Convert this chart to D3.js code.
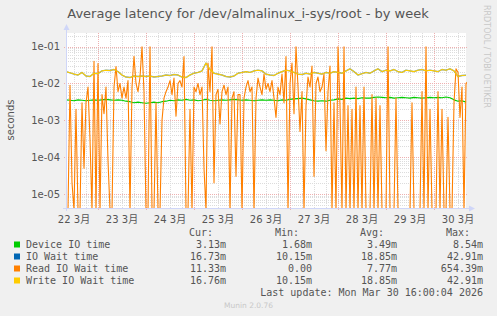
<!DOCTYPE html>
<html>
<head>
<meta charset="utf-8">
<script src="https://cdn.jsdelivr.net/npm/d3@7"></script>
<style>
  body { margin: 0; background: #f0f0f0; }
  svg { display: block; }
</style>
</head>
<body>
<svg id="chart" width="497" height="316"></svg>
<script>
// ---------------------------------------------------------------------------
// DATA (milliseconds)
// ---------------------------------------------------------------------------
const startTime = Date.UTC(2026, 2, 22, 8, 0);   // left edge of the graph
const endTime   = Date.UTC(2026, 2, 30, 16, 0);  // last update

// 2 hour steps
const deviceIoMs = [
  3.6, 3.5, 3.4, 3.6, 3.5, 3.4, 3.5, 3.6, 3.5, 3.6,
  3.7, 3.6, 3.5, 3.6, 3.5, 3.3, 3.2, 3.0, 3.1, 3.0,
  2.9, 3.0, 3.1, 3.0, 3.2, 3.3, 3.5, 3.4, 3.6, 3.5,
  3.7, 3.5, 3.6, 3.4, 3.5, 3.7, 3.5, 3.4, 3.5, 3.6,
  3.5, 3.6, 3.7, 3.6, 3.5, 3.6, 3.5, 3.4, 3.5, 3.6,
  3.5, 3.6, 3.5, 3.4, 3.6, 3.5, 3.7, 3.8, 3.9, 4.0,
  3.8, 3.6, 3.4, 3.3, 3.4, 3.3, 3.5, 3.6, 3.8, 3.7,
  4.0, 3.9, 4.0, 3.9, 4.1, 4.0, 4.0, 4.2, 4.3, 4.2,
  4.1, 4.2, 4.0, 4.1, 4.2, 4.1, 4.0, 4.2, 4.1, 4.0,
  4.1, 4.2, 4.1, 4.2, 4.1, 4.3, 4.1, 3.6, 3.3, 3.4,
  3.13
];

// 2 hour steps
const writeWaitMs = [
  21, 19.5, 18, 17, 20, 16, 15.5, 19, 18.5, 22,
  23, 22.5, 24, 21, 17, 15, 14.5, 16, 15.5, 16,
  15.5, 16, 15, 15.5, 16, 17, 16.5, 17.5, 17, 15,
  14.5, 17, 19, 20, 22, 36, 24, 19, 18, 17,
  15.5, 15, 16, 19, 20, 21, 20, 22, 23, 22,
  18, 17, 16.5, 19, 21, 23, 22, 20, 18, 17.5,
  19, 18, 20, 19, 18, 20, 19, 21, 20, 19,
  22, 25, 21, 17, 18.5, 20, 19, 22, 25, 21,
  23, 22, 24, 21, 20, 23, 22, 21, 23, 24,
  22, 23, 22, 21, 24, 23, 25, 22, 15.5, 16.5,
  16.76
];

// IO wait has the same min/avg/max as write wait, it sits right under it
const ioWaitMs = writeWaitMs;

// 1 hour steps, 0 = no reads
const readWaitMs = [
  0, 0, 9, 0.02, 0, 2, 0, 0, 3, 0.05,
  3, 8, 0.3, 0, 40, 0, 35, 0, 5, 1.5,
  8, 0.08, 0, 0, 8, 29, 6, 10, 4, 8,
  4, 12, 0, 8, 55, 10, 6, 15, 100, 6,
  0, 0, 100, 0, 0, 3, 0, 0, 1, 4,
  6, 8, 12, 5, 14, 1.3, 10, 12, 8, 54,
  0, 0, 2, 0, 8, 6, 10, 5, 8, 0.05,
  0, 36, 6, 100, 0.02, 5, 7, 0.8, 6, 9,
  5, 8, 0, 4, 6, 0.03, 5, 5, 0, 4,
  8, 12, 6, 8, 0, 4, 14, 8, 5, 18,
  7,
  10, 6, 12, 4, 1.2, 8, 5, 18, 3, 54,
  0, 10, 36, 1.5, 100, 8, 0.5, 6, 0, 2.5,
  15, 8, 30, 0.03, 10, 15, 6, 8, 18, 0.15,
  6, 30, 0, 3, 0, 100, 2.5, 0, 100, 0,
  2.5, 0, 2, 0, 8, 0, 2.5, 0, 8, 0,
  0, 0, 5, 0, 4, 0, 2.5, 0, 0, 0,
  100, 0, 0, 0, 4, 0, 0, 0, 0, 0,
  0, 0, 3, 0, 0, 0, 0, 6, 0, 100,
  0, 2, 0, 0, 0, 6, 0, 2, 0, 0,
  1.2, 0, 0, 3, 25, 20, 1.2, 8, 0, 10,
  11.33
];

const seriesNames  = ["Device IO time", "IO Wait time", "Read IO Wait time", "Write IO Wait time"];
const seriesColors = ["#00cc00", "#0066b3", "#ff8000", "#ffcc00"];
const curVals = ["3.13m", "16.73m", "11.33m", "16.76m"];
const minVals = ["1.68m", "10.15m", "0.00 ", "10.15m"];
const avgVals = ["3.49m", "18.85m", "7.77m", "18.85m"];
const maxVals = ["8.54m", "42.91m", "654.39m", "42.91m"];

// ---------------------------------------------------------------------------
// SVG setup
// ---------------------------------------------------------------------------
const svg = d3.select("#chart");
const plot = { left: 66, right: 466, top: 33, bottom: 208 };
const textCol = "#555555";
const axisCol = "#cfd6f8";

const x = d3.scaleUtc().domain([startTime, endTime]).range([plot.left, plot.right]);
const y = d3.scaleLog().domain([4.14e-6, 0.2355]).range([plot.bottom, plot.top]);

svg.append("rect").attr("width", 497).attr("height", 316).attr("fill", "#f0f0f0");
svg.append("rect")
  .attr("x", plot.left).attr("y", plot.top)
  .attr("width", plot.right - plot.left).attr("height", plot.bottom - plot.top)
  .attr("fill", "#ffffff");

// ---------- grid ----------
const grid = svg.append("g").attr("shape-rendering", "crispEdges");

const minorY = [];
for (let k = -6; k <= -1; k++) {
  for (let m = 2; m <= 9; m++) {
    const v = m * Math.pow(10, k);
    if (v > y.domain()[0] && v < y.domain()[1]) minorY.push(v);
  }
}
const majorY = [1e-1, 1e-2, 1e-3, 1e-4, 1e-5];

grid.selectAll(".hminor").data(minorY).enter().append("line")
  .attr("x1", plot.left).attr("x2", plot.right)
  .attr("y1", d => Math.round(y(d)) + 0.5).attr("y2", d => Math.round(y(d)) + 0.5)
  .attr("stroke", "#dcdcdc").attr("stroke-dasharray", "1,1");

const sixHours = d3.utcHour.every(6).range(new Date(startTime), new Date(endTime));
grid.selectAll(".vminor").data(sixHours).enter().append("line")
  .attr("x1", d => Math.round(x(d)) + 0.5).attr("x2", d => Math.round(x(d)) + 0.5)
  .attr("y1", plot.top).attr("y2", plot.bottom)
  .attr("stroke", "#dcdcdc").attr("stroke-dasharray", "1,1");

grid.selectAll(".hmajor").data(majorY).enter().append("line")
  .attr("x1", plot.left - 2).attr("x2", plot.right + 2)
  .attr("y1", d => Math.round(y(d)) + 0.5).attr("y2", d => Math.round(y(d)) + 0.5)
  .attr("stroke", "#eeb0b0").attr("stroke-dasharray", "1,1");

const days = d3.utcDay.range(new Date(startTime), new Date(endTime));
grid.selectAll(".vmajor").data(days).enter().append("line")
  .attr("x1", d => Math.round(x(d)) + 0.5).attr("x2", d => Math.round(x(d)) + 0.5)
  .attr("y1", plot.top).attr("y2", plot.bottom + 2)
  .attr("stroke", "#eeb0b0").attr("stroke-dasharray", "1,1");

// ---------- series ----------
svg.append("clipPath").attr("id", "clip")
  .append("rect")
  .attr("x", plot.left).attr("y", plot.top)
  .attr("width", plot.right - plot.left + 1).attr("height", plot.bottom - plot.top);

function toPoints(vals, stepHours) {
  return vals.map((v, i) => ({ t: d3.utcHour.offset(new Date(startTime), i * stepHours), v: v }));
}

const line = d3.line()
  .x(d => x(d.t))
  .y(d => d.v > 0 ? y(d.v / 1000) : plot.bottom + 2);

const series = [
  toPoints(deviceIoMs, 2),
  toPoints(ioWaitMs, 2),
  toPoints(readWaitMs, 1),
  toPoints(writeWaitMs, 2)
];

const widths = [1.2, 1.4, 1.1, 1.1];
const lines = svg.append("g").attr("clip-path", "url(#clip)");
series.forEach((pts, i) => {
  lines.append("path")
    .datum(pts)
    .attr("fill", "none")
    .attr("stroke", seriesColors[i])
    .attr("stroke-width", widths[i])
    .attr("stroke-opacity", i === 1 ? 0.6 : 1)
    .attr("stroke-linejoin", "round")
    .attr("d", line);
});

// ---------- axes ----------
const axes = svg.append("g").attr("shape-rendering", "crispEdges");
axes.append("line")
  .attr("x1", plot.left + 0.5).attr("x2", plot.left + 0.5)
  .attr("y1", plot.bottom + 3).attr("y2", plot.top - 3)
  .attr("stroke", axisCol);
axes.append("line")
  .attr("x1", plot.left - 3).attr("x2", plot.right + 4)
  .attr("y1", plot.bottom + 0.5).attr("y2", plot.bottom + 0.5)
  .attr("stroke", axisCol);
svg.append("path")
  .attr("d", `M${plot.left - 2.5},${plot.top - 3} L${plot.left + 0.5},${plot.top - 9} L${plot.left + 3.5},${plot.top - 3} Z`)
  .attr("fill", axisCol);
svg.append("path")
  .attr("d", `M${plot.right + 3},${plot.bottom - 2.5} L${plot.right + 9},${plot.bottom + 0.5} L${plot.right + 3},${plot.bottom + 3.5} Z`)
  .attr("fill", axisCol);

const fontSans = "'DejaVu Sans', 'Noto Sans CJK JP', sans-serif";
const fontMono = "'DejaVu Sans Mono', monospace";

svg.selectAll(".ylab").data(majorY).enter().append("text")
  .attr("x", 60).attr("y", d => y(d)).attr("dy", "0.36em")
  .attr("text-anchor", "end")
  .attr("font-family", fontSans).attr("font-size", 10).attr("fill", textCol)
  .text(d => "1e-" + String(Math.round(-Math.log10(d))).padStart(2, "0"));

const noons = days.map(d => d3.utcHour.offset(d, -12)).concat([d3.utcHour.offset(days[days.length - 1], 12)]);
svg.selectAll(".xlab").data(noons).enter().append("text")
  .attr("x", d => x(d)).attr("y", 223)
  .attr("text-anchor", "middle")
  .attr("font-family", fontSans).attr("font-size", 10).attr("fill", textCol)
  .text(d => `${d.getUTCDate()} ${d.getUTCMonth() + 1}月`);

// ---------- title / side texts ----------
svg.append("text")
  .attr("x", 248).attr("y", 18).attr("text-anchor", "middle")
  .attr("font-family", fontSans).attr("font-size", 13).attr("fill", textCol)
  .text("Average latency for /dev/almalinux_i-sys/root - by week");

svg.append("text")
  .attr("transform", "translate(14,120) rotate(-90)")
  .attr("text-anchor", "middle")
  .attr("font-family", fontSans).attr("font-size", 10).attr("fill", textCol)
  .text("seconds");

svg.append("text")
  .attr("transform", "translate(484,5) rotate(90)")
  .attr("font-family", fontSans).attr("font-size", 8).attr("fill", "#c8c8c8")
  .text("RRDTOOL / TOBI OETIKER");

// ---------- legend ----------
const legend = svg.append("g")
  .attr("font-family", fontMono).attr("font-size", 10).attr("fill", textCol)
  .style("white-space", "pre");

[["Cur:", 213], ["Min:", 299], ["Avg:", 384], ["Max:", 470]].forEach(([h, xe]) => {
  legend.append("text").attr("x", xe).attr("y", 236).attr("text-anchor", "end").text(h);
});

seriesNames.forEach((name, i) => {
  const yb = 248 + i * 12;
  legend.append("rect")
    .attr("x", 14).attr("y", yb - 6.5).attr("width", 6).attr("height", 6)
    .attr("fill", seriesColors[i]);
  legend.append("text").attr("x", 26).attr("y", yb).text(name);
  [[curVals, 226], [minVals, 312], [avgVals, 397], [maxVals, 483]].forEach(([arr, xe]) => {
    legend.append("text").attr("x", xe).attr("y", yb).attr("text-anchor", "end").text(arr[i]);
  });
});

legend.append("text")
  .attr("x", 483).attr("y", 296).attr("text-anchor", "end")
  .text("Last update: Mon Mar 30 16:00:04 2026");

svg.append("text")
  .attr("x", 248.5).attr("y", 308).attr("text-anchor", "middle")
  .attr("font-family", fontSans).attr("font-size", 7.5).attr("fill", "#c8c8c8")
  .text("Munin 2.0.76");
</script>
</body>
</html>
